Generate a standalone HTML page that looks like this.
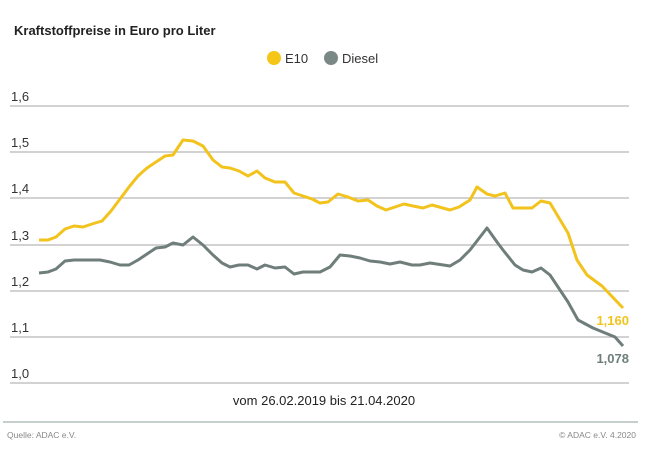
<!DOCTYPE html>
<html><head><meta charset="utf-8"><style>
html,body{margin:0;padding:0;background:#fff;}
body{width:650px;height:469px;overflow:hidden;font-family:"Liberation Sans",sans-serif;}
</style></head><body>
<svg width="650" height="469" viewBox="0 0 650 469" xmlns="http://www.w3.org/2000/svg" font-family="Liberation Sans, sans-serif">
<text x="14" y="35" font-size="13" font-weight="bold" fill="#222">Kraftstoffpreise in Euro pro Liter</text>
<circle cx="274" cy="58" r="7" fill="#f5c518"/>
<text x="285" y="63" font-size="13" fill="#333">E10</text>
<circle cx="331" cy="58" r="7" fill="#7a8886"/>
<text x="342" y="63" font-size="13" fill="#333">Diesel</text>
<g stroke="#b8b8b8" stroke-width="1.2">
<line x1="10" y1="106" x2="629" y2="106"/><line x1="10" y1="152" x2="629" y2="152"/>
<line x1="10" y1="198" x2="629" y2="198"/><line x1="10" y1="245" x2="629" y2="245"/>
<line x1="10" y1="291" x2="629" y2="291"/><line x1="10" y1="337" x2="629" y2="337"/>
<line x1="10" y1="383" x2="629" y2="383"/>
</g>
<g font-size="13" fill="#333">
<text x="11" y="101">1,6</text><text x="11" y="147">1,5</text><text x="11" y="193">1,4</text>
<text x="11" y="240">1,3</text><text x="11" y="286">1,2</text><text x="11" y="332">1,1</text>
<text x="11" y="378">1,0</text>
</g>
<polyline fill="none" stroke="#f2c31c" stroke-width="3" stroke-linejoin="round" points="39,240 48,240 56,237 65,229 74,226 83,227 92,224 102,221 111,211 120,199 129,187 138,176 147,168 156,162 165,156 173,155 183,140 193,141 203,146 213,160 222,167 230,168 239,171 248,176 257,171 265,178 275,182 285,182 294,193 303,196 312,199 320,203 328,202 338,194 348,197 358,201 368,200 377,206 386,210 404,204 413,206 423,208 432,205 450,210 459,207 470,200 477,187 487,194 495,196 505,193 513,208 532,208 541,201 550,203 568,233 577,260 587,275 602,286 623,308"/>
<polyline fill="none" stroke="#6f7e7b" stroke-width="3" stroke-linejoin="round" points="39,273 48,272 56,269 65,261 74,260 100,260 110,262 120,265 129,265 138,260 147,254 156,248 165,247 173,243 183,245 193,237 203,245 213,255 222,263 230,267 239,265 248,265 257,269 265,265 275,268 285,267 294,274 303,272 320,272 330,267 340,255 350,256 360,258 370,261 380,262 390,264 400,262 412,265 420,265 430,263 450,266 460,260 470,250 487,228 497,242 503,250 515,265 523,270 532,272 541,268 550,275 560,290 568,302 578,320 593,328 615,337 623,346"/>
<text x="629" y="325" font-size="13" font-weight="bold" fill="#f2c31c" text-anchor="end">1,160</text>
<text x="629" y="363" font-size="13" font-weight="bold" fill="#6f7e7b" text-anchor="end">1,078</text>
<text x="324" y="405" font-size="13" fill="#222" text-anchor="middle">vom 26.02.2019 bis 21.04.2020</text>
<line x1="3" y1="422" x2="638" y2="422" stroke="#c5d0cc" stroke-width="2"/>
<text x="7" y="438" font-size="8.5" fill="#888">Quelle: ADAC e.V.</text>
<text x="636" y="438" font-size="8.5" fill="#888" text-anchor="end">© ADAC e.V. 4.2020</text>
</svg>
</body></html>
